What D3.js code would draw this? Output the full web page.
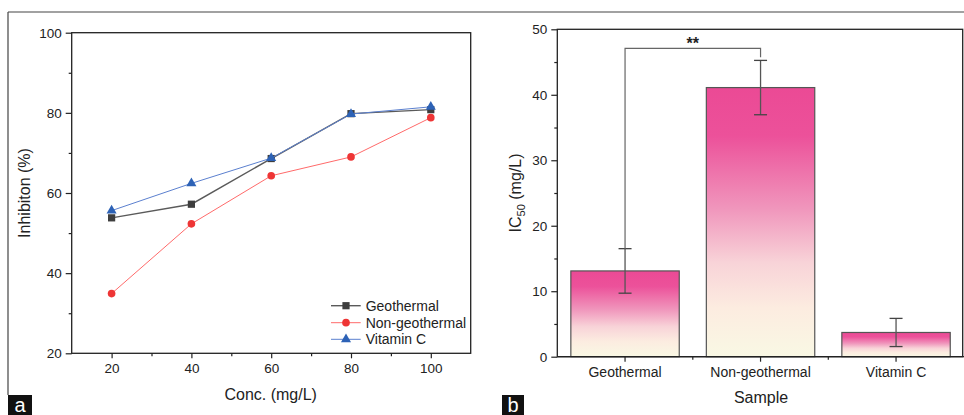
<!DOCTYPE html>
<html>
<head>
<meta charset="utf-8">
<script src="https://cdn.jsdelivr.net/npm/d3@7"></script>
<style>
  body { margin: 0; background: #fff; }
  svg { display: block; font-family: "Liberation Sans", Arial, sans-serif; }
</style>
</head>
<body>
<div id="chart"></div>
<script>
// panel a data
const conc = [20, 40, 60, 80, 100];
const geothermal = [53.8, 57.2, 68.6, 79.8, 80.8];
const nonGeothermal = [34.9, 52.3, 64.3, 69.0, 78.8];
const vitaminC = [55.6, 62.4, 68.7, 79.7, 81.5];
const seriesNames = ["Geothermal", "Non-geothermal", "Vitamin C"];

// panel b data
const samples = ["Geothermal", "Non-geothermal", "Vitamin C"];
const ic50 = [13.1, 41.1, 3.7];
const ic50Err = [3.4, 4.15, 2.15];
const sigPair = ["Geothermal", "Non-geothermal"];
const sigLabel = "**";
const sigLevel = 47.1;

const svg = d3.select("#chart").append("svg")
    .attr("width", 964)
    .attr("height", 415);

// outer frame (top + left edges)
svg.append("line").attr("x1", 8).attr("x2", 964).attr("y1", 12).attr("y2", 12)
    .attr("stroke", "#444").attr("stroke-width", 1.2);
svg.append("line").attr("x1", 8).attr("x2", 8).attr("y1", 12).attr("y2", 395)
    .attr("stroke", "#444").attr("stroke-width", 1.2);

function panelTag(x, w, txt) {
    svg.append("rect").attr("x", x).attr("y", 395).attr("width", w).attr("height", 20).attr("fill", "#111");
    svg.append("text").attr("x", x + w / 2).attr("y", 412).attr("text-anchor", "middle")
        .attr("fill", "#fff").style("font-size", "20px").text(txt);
}
panelTag(8, 24, "a");
panelTag(502, 22, "b");

// ---------- panel a ----------
const xA = d3.scaleLinear().domain([10, 110]).range([71.7, 470.7]);
const yA = d3.scaleLinear().domain([20, 100]).range([353.3, 32.7]);
const gA = svg.append("g");

gA.append("rect").attr("x", xA(10)).attr("y", yA(100))
    .attr("width", xA(110) - xA(10)).attr("height", yA(20) - yA(100))
    .attr("fill", "none").attr("stroke", "#222").attr("stroke-width", 1.3);

gA.append("g").attr("transform", "translate(" + xA(10) + ",0)")
    .call(d3.axisLeft(yA).tickValues([20, 40, 60, 80, 100]).tickSize(6).tickPadding(4));
gA.append("g").attr("transform", "translate(" + xA(10) + ",0)")
    .call(d3.axisLeft(yA).tickValues([30, 50, 70, 90]).tickSize(3).tickFormat(""));
gA.append("g").attr("transform", "translate(0," + yA(20) + ")")
    .call(d3.axisBottom(xA).tickValues(conc).tickSize(5).tickPadding(5));
gA.append("g").attr("transform", "translate(0," + yA(20) + ")")
    .call(d3.axisBottom(xA).tickValues([30, 50, 70, 90]).tickSize(3).tickFormat(""));

gA.selectAll(".domain").remove();
gA.selectAll(".tick line").attr("stroke", "#222").attr("stroke-width", 1.2);
gA.selectAll(".tick text").style("font-size", "13.5px").attr("fill", "#222");

gA.append("text").attr("transform", "translate(30,193) rotate(-90)")
    .attr("text-anchor", "middle").style("font-size", "16px").attr("fill", "#222")
    .text("Inhibiton (%)");
gA.append("text").attr("x", 270.7).attr("y", 400)
    .attr("text-anchor", "middle").style("font-size", "16px").attr("fill", "#222")
    .text("Conc. (mg/L)");

const styles = [
    { line: "#5a5a5a", mark: "#3e3e3e", shape: d3.symbolSquare, size: 52, lw: 1.4 },
    { line: "#ff6a6a", mark: "#ee3535", shape: d3.symbolCircle, size: 46, lw: 1 },
    { line: "#5b80cf", mark: "#2d62b6", shape: d3.symbolTriangle, size: 44, lw: 1 }
];
const allSeries = [geothermal, nonGeothermal, vitaminC];
const lineGen = d3.line().x((d, i) => xA(conc[i])).y(d => yA(d));

allSeries.forEach((vals, k) => {
    const st = styles[k];
    gA.append("path").datum(vals).attr("d", lineGen)
        .attr("fill", "none").attr("stroke", st.line).attr("stroke-width", st.lw);
    gA.selectAll(null).data(vals).enter().append("path")
        .attr("d", d3.symbol().type(st.shape).size(st.size))
        .attr("transform", (d, i) => "translate(" + xA(conc[i]) + "," + yA(d) + ")")
        .attr("fill", st.mark);
});

// legend
const legY = [305.7, 322.7, 339.3];
seriesNames.forEach((name, k) => {
    const st = styles[k];
    gA.append("line").attr("x1", 331).attr("x2", 360.7).attr("y1", legY[k]).attr("y2", legY[k])
        .attr("stroke", st.line).attr("stroke-width", st.lw);
    gA.append("path").attr("d", d3.symbol().type(st.shape).size(st.size))
        .attr("transform", "translate(346," + legY[k] + ")").attr("fill", st.mark);
    gA.append("text").attr("x", 365.7).attr("y", legY[k] + 5)
        .style("font-size", "14px").attr("fill", "#222").text(name);
});

// ---------- panel b ----------
const xB = d3.scaleBand().domain(samples).range([557.3, 963.8]).paddingInner(0.2).paddingOuter(0.1);
const yB = d3.scaleLinear().domain([0, 50]).range([356.7, 29.3]);
const gB = svg.append("g");

const defs = svg.append("defs");
const grad = defs.append("linearGradient").attr("id", "pinkFade")
    .attr("x1", 0).attr("x2", 0).attr("y1", 0).attr("y2", 1);
[[0, "#eb4a95"], [0.18, "#ec519a"], [0.45, "#f096bc"], [0.65, "#f8d3d8"], [0.82, "#fcece0"], [1, "#f9f8e4"]]
    .forEach(s => grad.append("stop").attr("offset", s[0]).attr("stop-color", s[1]));

gB.append("rect").attr("x", 557.3).attr("y", yB(50))
    .attr("width", 962.7 - 557.3).attr("height", yB(0) - yB(50))
    .attr("fill", "none").attr("stroke", "#222").attr("stroke-width", 1.3);

gB.selectAll(".bar").data(samples).enter().append("rect")
    .attr("x", d => xB(d))
    .attr("y", (d, i) => yB(ic50[i]))
    .attr("width", xB.bandwidth())
    .attr("height", (d, i) => yB(0) - yB(ic50[i]))
    .attr("fill", "url(#pinkFade)")
    .attr("stroke", "#555").attr("stroke-width", 1.2);

const cx = d => xB(d) + xB.bandwidth() / 2;
samples.forEach((d, i) => {
    const lo = yB(ic50[i] - ic50Err[i]), hi = yB(ic50[i] + ic50Err[i]);
    gB.append("line").attr("x1", cx(d)).attr("x2", cx(d)).attr("y1", lo).attr("y2", hi)
        .attr("stroke", "#555").attr("stroke-width", 1.3);
    [lo, hi].forEach(y => gB.append("line").attr("x1", cx(d) - 6.5).attr("x2", cx(d) + 6.5)
        .attr("y1", y).attr("y2", y).attr("stroke", "#444").attr("stroke-width", 1.3));
});

// significance bracket
const iA = samples.indexOf(sigPair[0]), iB = samples.indexOf(sigPair[1]);
gB.append("path")
    .attr("d", "M" + cx(sigPair[0]) + "," + yB(ic50[iA] + ic50Err[iA]) +
        "V" + yB(sigLevel) + "H" + cx(sigPair[1]) + "V" + yB(ic50[iB] + ic50Err[iB] + 0.5))
    .attr("fill", "none").attr("stroke", "#666").attr("stroke-width", 1.2);
gB.append("text").attr("x", (cx(sigPair[0]) + cx(sigPair[1])) / 2).attr("y", yB(sigLevel) + 1)
    .attr("text-anchor", "middle").style("font-size", "16px").style("font-weight", "bold")
    .attr("fill", "#222").text(sigLabel);

gB.append("g").attr("transform", "translate(557.3,0)")
    .call(d3.axisLeft(yB).tickValues([0, 10, 20, 30, 40, 50]).tickSize(6).tickPadding(4));
gB.append("g").attr("transform", "translate(557.3,0)")
    .call(d3.axisLeft(yB).tickValues([5, 15, 25, 35, 45]).tickSize(3).tickFormat(""));
gB.append("g").attr("class", "xb").attr("transform", "translate(0," + yB(0) + ")")
    .call(d3.axisBottom(xB).tickSize(5).tickPadding(5).tickSizeOuter(0));
const xMinor = [1, 2].map(k => xB.range()[0] + k * xB.step());
gB.selectAll(".minorx").data(xMinor).enter().append("line")
    .attr("x1", d => d).attr("x2", d => d).attr("y1", yB(0)).attr("y2", yB(0) + 3)
    .attr("stroke", "#222").attr("stroke-width", 1.2);
gB.append("line").attr("x1", 557.3).attr("x2", 964).attr("y1", yB(0)).attr("y2", yB(0))
    .attr("stroke", "#222").attr("stroke-width", 1.3);

gB.selectAll(".domain").remove();
gB.selectAll(".tick line").attr("stroke", "#222").attr("stroke-width", 1.2);
gB.selectAll(".tick text").style("font-size", "13.5px").attr("fill", "#222");
gB.selectAll(".xb .tick text").style("font-size", "14px");

const yl = gB.append("text").attr("transform", "translate(520.5,193) rotate(-90)")
    .attr("text-anchor", "middle").style("font-size", "16px").attr("fill", "#222");
yl.append("tspan").text("IC");
yl.append("tspan").attr("dy", 4).style("font-size", "11px").text("50");
yl.append("tspan").attr("dy", -4).text(" (mg/L)");
gB.append("text").attr("x", 761).attr("y", 403)
    .attr("text-anchor", "middle").style("font-size", "16px").attr("fill", "#222")
    .text("Sample");
</script>
</body>
</html>
